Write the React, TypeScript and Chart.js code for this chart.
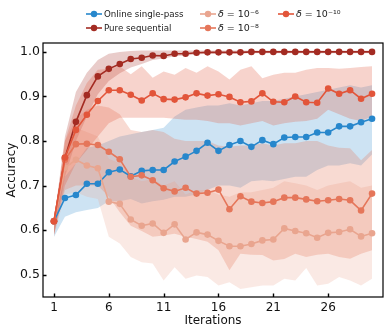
import React, { useEffect, useRef } from "react";
import { Chart, registerables } from "chart.js";

Chart.register(...registerables);

// ---------- data ----------
const iterations = [1, 2, 3, 4, 5, 6, 7, 8, 9, 10, 11, 12, 13, 14, 15, 16, 17, 18, 19, 20, 21, 22, 23, 24, 25, 26, 27, 28, 29, 30];
const xTickValues = [1, 6, 11, 16, 21, 26];
const yTickValues = [0.5, 0.6, 0.7, 0.8, 0.9, 1.0];

const seriesLabels = ["Online single-pass", "Pure sequential", "δ = 10⁻⁶", "δ = 10⁻⁸", "δ = 10⁻¹⁰"];
const seriesColors = ["#2787cc", "#a32b22", "#e9a58f", "#e5765a", "#e2553a"];

const onlineMean = [0.620, 0.672, 0.679, 0.704, 0.704, 0.730, 0.736, 0.721, 0.733, 0.735, 0.735, 0.754, 0.765, 0.778, 0.796, 0.778, 0.791, 0.800, 0.787, 0.802, 0.793, 0.808, 0.809, 0.809, 0.819, 0.819, 0.833, 0.833, 0.842, 0.850];
const onlineUpper = [0.620, 0.720, 0.750, 0.785, 0.790, 0.800, 0.810, 0.815, 0.820, 0.825, 0.830, 0.855, 0.870, 0.875, 0.880, 0.880, 0.885, 0.880, 0.885, 0.890, 0.890, 0.895, 0.900, 0.905, 0.910, 0.915, 0.920, 0.925, 0.920, 0.925];
const onlineLower = [0.585, 0.630, 0.640, 0.645, 0.650, 0.665, 0.665, 0.670, 0.660, 0.665, 0.668, 0.675, 0.675, 0.680, 0.690, 0.700, 0.700, 0.695, 0.710, 0.712, 0.710, 0.715, 0.720, 0.720, 0.735, 0.745, 0.745, 0.750, 0.745, 0.770];

const pureMean = [0.620, 0.762, 0.843, 0.903, 0.945, 0.962, 0.973, 0.984, 0.987, 0.992, 0.991, 0.996, 0.996, 0.998, 0.999, 0.999, 0.999, 0.999, 1.000, 1.000, 1.000, 1.000, 1.000, 1.000, 1.000, 1.000, 1.000, 1.000, 1.000, 1.000];
const pureUpper = [0.620, 0.810, 0.910, 0.953, 0.982, 0.996, 1.000, 1.002, 1.003, 1.003, 1.003, 1.003, 1.003, 1.003, 1.003, 1.003, 1.003, 1.003, 1.003, 1.003, 1.003, 1.003, 1.003, 1.003, 1.003, 1.003, 1.003, 1.003, 1.003, 1.003];
const pureLower = [0.590, 0.720, 0.800, 0.855, 0.905, 0.935, 0.952, 0.965, 0.973, 0.982, 0.985, 0.990, 0.992, 0.994, 0.996, 0.996, 0.996, 0.996, 0.997, 0.997, 0.997, 0.997, 0.997, 0.997, 0.997, 0.997, 0.997, 0.997, 0.997, 0.997];

const d6Mean = [0.620, 0.740, 0.758, 0.745, 0.739, 0.664, 0.659, 0.624, 0.610, 0.615, 0.594, 0.613, 0.579, 0.595, 0.590, 0.576, 0.564, 0.564, 0.569, 0.577, 0.579, 0.604, 0.598, 0.593, 0.583, 0.594, 0.596, 0.602, 0.586, 0.593];
const d6Upper = [0.620, 0.780, 0.830, 0.820, 0.810, 0.760, 0.750, 0.720, 0.710, 0.715, 0.700, 0.710, 0.680, 0.690, 0.690, 0.680, 0.675, 0.685, 0.685, 0.690, 0.695, 0.710, 0.705, 0.700, 0.690, 0.700, 0.705, 0.710, 0.695, 0.700];
const d6Lower = [0.585, 0.680, 0.685, 0.675, 0.670, 0.585, 0.570, 0.540, 0.528, 0.525, 0.487, 0.517, 0.491, 0.498, 0.495, 0.476, 0.483, 0.468, 0.472, 0.476, 0.476, 0.491, 0.487, 0.515, 0.476, 0.480, 0.495, 0.487, 0.476, 0.491];

const d8Mean = [0.620, 0.758, 0.793, 0.794, 0.791, 0.776, 0.759, 0.720, 0.723, 0.712, 0.694, 0.687, 0.695, 0.682, 0.684, 0.691, 0.647, 0.676, 0.664, 0.661, 0.664, 0.673, 0.673, 0.669, 0.665, 0.667, 0.670, 0.667, 0.644, 0.682];
const d8Upper = [0.600, 0.800, 0.850, 0.870, 0.880, 0.875, 0.860, 0.825, 0.820, 0.825, 0.820, 0.805, 0.800, 0.800, 0.800, 0.790, 0.787, 0.790, 0.790, 0.795, 0.790, 0.795, 0.795, 0.800, 0.800, 0.790, 0.785, 0.784, 0.757, 0.780];
const d8Lower = [0.590, 0.690, 0.700, 0.700, 0.700, 0.675, 0.640, 0.610, 0.598, 0.585, 0.588, 0.592, 0.585, 0.580, 0.574, 0.555, 0.510, 0.547, 0.545, 0.544, 0.532, 0.535, 0.547, 0.540, 0.545, 0.547, 0.540, 0.536, 0.547, 0.555];

const d10Mean = [0.620, 0.763, 0.825, 0.859, 0.890, 0.914, 0.914, 0.904, 0.891, 0.907, 0.894, 0.893, 0.898, 0.907, 0.902, 0.905, 0.899, 0.887, 0.889, 0.907, 0.888, 0.887, 0.900, 0.887, 0.886, 0.918, 0.906, 0.914, 0.895, 0.906];
const d10Upper = [0.620, 0.800, 0.880, 0.930, 0.960, 0.962, 0.968, 0.950, 0.968, 0.942, 0.956, 0.949, 0.964, 0.953, 0.968, 0.956, 0.938, 0.960, 0.968, 0.941, 0.949, 0.953, 0.953, 0.960, 0.964, 0.964, 0.962, 0.964, 0.966, 0.968];
const d10Lower = [0.590, 0.700, 0.750, 0.780, 0.810, 0.840, 0.852, 0.852, 0.852, 0.852, 0.852, 0.850, 0.848, 0.848, 0.845, 0.840, 0.840, 0.835, 0.840, 0.845, 0.835, 0.840, 0.843, 0.845, 0.850, 0.870, 0.860, 0.850, 0.845, 0.855];

const seriesMeans = [onlineMean, pureMean, d6Mean, d8Mean, d10Mean];
const seriesUppers = [onlineUpper, pureUpper, d6Upper, d8Upper, d10Upper];
const seriesLowers = [onlineLower, pureLower, d6Lower, d8Lower, d10Lower];

// ---------- styling ----------
const FONT = "'DejaVu Sans', sans-serif";
const bandAlpha = [0.23, 0.24, 0.24, 0.27, 0.26];
// drawing order: later series drawn on top (lower "order" = on top)
const drawOrder = [4, 3, 2, 1, 0];

function hexToRgba(hex: string, a: number) {
  const n = parseInt(hex.slice(1), 16);
  return `rgba(${(n >> 16) & 255},${(n >> 8) & 255},${n & 255},${a})`;
}

const toPts = (arr: number[]) => arr.map((y, i) => ({ x: iterations[i], y }));

// legend slots (column, row) for each series
const legendSlots = [
  { x: 86, y: 14 },
  { x: 86, y: 28 },
  { x: 200, y: 14 },
  { x: 200, y: 28 },
  { x: 278, y: 14 },
];

const framePlugin = {
  id: "framePlugin",
  afterDraw(chart: any) {
    const { ctx, chartArea: a, scales } = chart;
    ctx.save();
    // frame
    ctx.strokeStyle = "#000";
    ctx.lineWidth = 1.2;
    ctx.strokeRect(a.left, a.top, a.right - a.left, a.bottom - a.top);
    // inward tick marks
    ctx.lineWidth = 1.4;
    ctx.beginPath();
    xTickValues.forEach((v) => {
      const px = Math.round(scales.x.getPixelForValue(v)) + 0.5;
      ctx.moveTo(px, a.bottom);
      ctx.lineTo(px, a.bottom - 3.5);
    });
    yTickValues.forEach((v) => {
      const py = Math.round(scales.y.getPixelForValue(v)) + 0.5;
      ctx.moveTo(a.left, py);
      ctx.lineTo(a.left + 3.5, py);
    });
    ctx.stroke();

    // axis titles
    ctx.fillStyle = "#111";
    ctx.font = `12px ${FONT}`;
    ctx.textAlign = "center";
    ctx.textBaseline = "middle";
    ctx.fillText("Iterations", (a.left + a.right) / 2, 321);
    ctx.save();
    ctx.translate(12, (a.top + a.bottom) / 2);
    ctx.rotate(-Math.PI / 2);
    ctx.fillText("Accuracy", 0, 0);
    ctx.restore();

    // legend
    seriesLabels.forEach((label, k) => {
      const s = legendSlots[k];
      const c = seriesColors[k];
      ctx.strokeStyle = c;
      ctx.lineWidth = 1.6;
      ctx.beginPath();
      ctx.moveTo(s.x, s.y);
      ctx.lineTo(s.x + 16, s.y);
      ctx.stroke();
      ctx.fillStyle = c;
      ctx.beginPath();
      ctx.arc(s.x + 8, s.y, 3.2, 0, Math.PI * 2);
      ctx.fill();
      ctx.fillStyle = "#222";
      ctx.textAlign = "left";
      ctx.textBaseline = "middle";
      let tx = s.x + 18;
      if (label.startsWith("δ")) {
        ctx.font = `italic 9.5px ${FONT}`;
        ctx.fillText("δ", tx, s.y + 0.5);
        tx += ctx.measureText("δ").width;
        ctx.font = `9.5px ${FONT}`;
        ctx.fillText(label.slice(1), tx, s.y + 0.5);
      } else {
        ctx.font = `8.7px ${FONT}`;
        ctx.fillText(label, tx, s.y + 0.5);
      }
    });
    ctx.restore();
  },
};

export default function App() {
  const ref = useRef<HTMLCanvasElement | null>(null);

  useEffect(() => {
    if (!ref.current) return;
    const datasets: any[] = [];
    seriesLabels.forEach((label, k) => {
      const band = hexToRgba(seriesColors[k], bandAlpha[k]);
      datasets.push({
        label: label + " upper",
        data: toPts(seriesUppers[k]),
        borderWidth: 0,
        pointRadius: 0,
        backgroundColor: band,
        borderColor: "rgba(0,0,0,0)",
        fill: "+1",
        tension: 0,
        order: 20 + drawOrder[k],
      });
      datasets.push({
        label: label + " lower",
        data: toPts(seriesLowers[k]),
        borderWidth: 0,
        pointRadius: 0,
        borderColor: "rgba(0,0,0,0)",
        fill: false,
        tension: 0,
        order: 20 + drawOrder[k],
      });
    });
    seriesLabels.forEach((label, k) => {
      datasets.push({
        label,
        data: toPts(seriesMeans[k]),
        borderColor: seriesColors[k],
        backgroundColor: seriesColors[k],
        borderWidth: 1.6,
        pointRadius: 3.3,
        pointBorderWidth: 0,
        fill: false,
        tension: 0,
        order: drawOrder[k],
      });
    });

    const chart = new Chart(ref.current, {
      type: "line",
      data: { datasets },
      options: {
        animation: false,
        responsive: false,
        devicePixelRatio: 1,
        layout: { padding: { top: 43, right: 7, left: 0, bottom: 0 } },
        plugins: { legend: { display: false }, tooltip: { enabled: false } },
        scales: {
          x: {
            type: "linear",
            min: 0,
            max: 31,
            grid: { display: false, drawTicks: false },
            border: { display: false },
            afterBuildTicks: (axis: any) => {
              axis.ticks = xTickValues.map((v) => ({ value: v }));
            },
            afterFit: (axis: any) => {
              axis.height = 37;
            },
            ticks: {
              padding: 4,
              color: "#111",
              font: { family: FONT, size: 12 },
              maxRotation: 0,
              autoSkip: false,
              callback: (v: any) => String(v),
            },
          },
          y: {
            type: "linear",
            min: 0.45,
            max: 1.02,
            grid: { display: false, drawTicks: false },
            border: { display: false },
            afterBuildTicks: (axis: any) => {
              axis.ticks = yTickValues.map((v) => ({ value: v }));
            },
            afterFit: (axis: any) => {
              axis.width = 43;
            },
            ticks: {
              padding: 3,
              color: "#111",
              font: { family: FONT, size: 12.5 },
              callback: (v: any) => Number(v).toFixed(1),
            },
          },
        },
      },
      plugins: [framePlugin],
    } as any);
    return () => chart.destroy();
  }, []);

  return (
    <div style={{ position: "fixed", left: 0, top: 0, width: 390, height: 334, background: "#fff" }}>
      <canvas ref={ref} width={390} height={334} style={{ display: "block" }} />
    </div>
  );
}
